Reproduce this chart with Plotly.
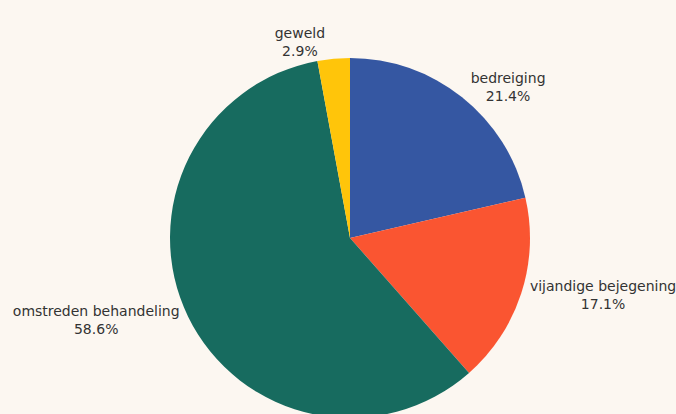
import plotly.graph_objects as go

labels = ["bedreiging", "vijandige bejegening", "omstreden behandeling", "geweld"]
values = [21.4, 17.1, 58.6, 2.9]
colors = ["#3557A2", "#FA5531", "#176B5F", "#FFC50A"]

fig = go.Figure(go.Pie(
    labels=labels,
    values=values,
    sort=False,
    direction="clockwise",
    rotation=0,
    automargin=False,
    marker=dict(colors=colors, line=dict(width=0)),
    textposition="outside",
    texttemplate="%{label}<br>%{percent:.1%}",
    textfont=dict(family="DejaVu Sans, sans-serif", size=14, color="#333333"),
    showlegend=False,
    hoverinfo="label+percent",
    domain=dict(x=[0.0355, 1.0], y=[0.0, 0.8612]),
))

fig.update_layout(
    width=676,
    height=418,
    margin=dict(l=0, r=0, t=0, b=0, autoexpand=False),
    paper_bgcolor="#FCF7F1",
    plot_bgcolor="#FCF7F1",
)

fig.write_html(
    "out.html",
    config={"displayModeBar": False},
    post_script="document.body.style.margin='0';document.body.style.overflow='hidden';document.body.style.background='#FCF7F1';",
)
